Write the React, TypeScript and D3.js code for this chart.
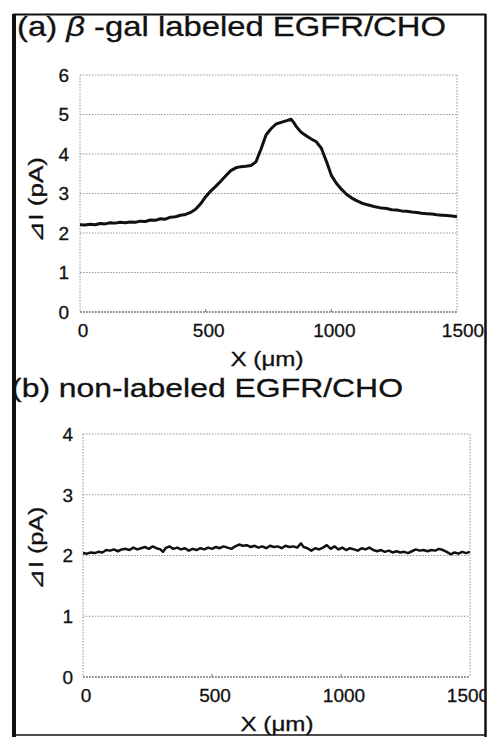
import React from "react";
import * as d3 from "d3";

const W = 489;
const H = 737;

// ---- data ----
const titleA = "(a) ";
const titleABeta = "β";
const titleARest = " -gal labeled EGFR/CHO";
const titleB = "(b) non-labeled EGFR/CHO";
const yLabel = "⊿I (pA)";
const xLabel = "X (μm)";

const xTicks = [0, 500, 1000, 1500];
const yTicksA = [0, 1, 2, 3, 4, 5, 6];
const yTicksB = [0, 1, 2, 3, 4];

const xA = [0, 20, 40, 60, 80, 100, 120, 140, 160, 180, 200, 220, 240, 260, 280, 300, 320, 340, 360, 380, 400, 420, 440, 460, 480, 500, 520, 540, 560, 580, 600, 620, 640, 660, 680, 700, 720, 740, 760, 780, 800, 820, 840, 850, 860, 880, 900, 920, 940, 960, 980, 1000, 1020, 1040, 1060, 1080, 1100, 1120, 1140, 1170, 1200, 1220, 1240, 1260, 1280, 1300, 1320, 1340, 1360, 1380, 1400, 1420, 1440, 1460, 1480, 1500];
const yA = [2.21, 2.2, 2.22, 2.21, 2.24, 2.23, 2.26, 2.25, 2.27, 2.26, 2.28, 2.27, 2.3, 2.29, 2.33, 2.32, 2.36, 2.35, 2.4, 2.41, 2.45, 2.47, 2.52, 2.6, 2.74, 2.92, 3.06, 3.18, 3.31, 3.45, 3.58, 3.65, 3.68, 3.69, 3.71, 3.8, 4.12, 4.48, 4.64, 4.76, 4.8, 4.84, 4.88, 4.8, 4.7, 4.55, 4.46, 4.38, 4.31, 4.15, 3.82, 3.46, 3.26, 3.11, 2.98, 2.89, 2.82, 2.76, 2.72, 2.67, 2.63, 2.62, 2.59, 2.58, 2.56, 2.55, 2.53, 2.52, 2.5, 2.49, 2.48, 2.46, 2.45, 2.44, 2.43, 2.41];

const xB = [0, 15, 30, 45, 60, 75, 90, 105, 120, 135, 150, 165, 180, 195, 210, 225, 240, 255, 270, 285, 300, 310, 320, 335, 350, 365, 380, 395, 410, 425, 440, 455, 470, 485, 500, 515, 530, 545, 560, 575, 590, 605, 620, 635, 650, 665, 680, 695, 710, 725, 740, 755, 770, 785, 800, 815, 830, 845, 855, 870, 885, 900, 915, 930, 945, 960, 975, 990, 1005, 1020, 1035, 1050, 1065, 1080, 1095, 1110, 1125, 1140, 1155, 1170, 1185, 1200, 1215, 1230, 1245, 1260, 1275, 1290, 1305, 1320, 1335, 1350, 1365, 1380, 1395, 1410, 1425, 1440, 1455, 1470, 1485, 1500];
const yB = [2.04, 2.03, 2.05, 2.04, 2.06, 2.05, 2.09, 2.08, 2.1, 2.07, 2.1, 2.11, 2.09, 2.13, 2.1, 2.12, 2.14, 2.11, 2.15, 2.12, 2.1, 2.06, 2.12, 2.15, 2.11, 2.13, 2.1, 2.12, 2.08, 2.11, 2.09, 2.12, 2.1, 2.13, 2.11, 2.14, 2.12, 2.15, 2.13, 2.11, 2.15, 2.18, 2.16, 2.17, 2.14, 2.16, 2.13, 2.15, 2.12, 2.16, 2.14, 2.15, 2.12, 2.16, 2.14, 2.15, 2.13, 2.2, 2.14, 2.12, 2.08, 2.12, 2.1, 2.13, 2.17, 2.11, 2.15, 2.1, 2.13, 2.09, 2.12, 2.1, 2.08, 2.12, 2.1, 2.13, 2.09, 2.07, 2.09, 2.06, 2.08, 2.05, 2.07, 2.05, 2.06, 2.04, 2.07, 2.1, 2.08, 2.09, 2.07, 2.09, 2.08, 2.11, 2.09, 2.06, 2.02, 2.05, 2.03, 2.06, 2.04, 2.06];

const FONT = "'Liberation Sans', Arial, sans-serif";
const GRID = "#8a8a8a";
const INK = "#111";

type PanelProps = {
  xs: number[];
  ys: number[];
  yTicks: number[];
  left: number;
  right: number;
  top: number;
  bottom: number;
  lineW: number;
  yLabelY: number;
  yLabelLen: number;
  xLabelX: number;
  tickAnchorX: number;
  lastTickShift: number;
};

function Panel(p: PanelProps) {
  const x = d3.scaleLinear().domain([0, 1500]).range([p.left, p.right]);
  const y = d3
    .scaleLinear()
    .domain([0, p.yTicks[p.yTicks.length - 1]])
    .range([p.bottom, p.top]);
  const data = p.xs.map((v, i) => [v, p.ys[i]] as [number, number]);
  const line = d3
    .line<[number, number]>()
    .x((d) => x(d[0]))
    .y((d) => y(d[1]))
    .curve(d3.curveLinear);
  return (
    <g>
      {p.yTicks.map((t) => (
        <line
          key={"g" + t}
          x1={p.left}
          x2={p.right}
          y1={y(t)}
          y2={y(t)}
          stroke={GRID}
          strokeWidth={0.9}
          strokeDasharray="1.5,1.5"
        />
      ))}
      <line x1={p.left} x2={p.left} y1={p.top} y2={p.bottom} stroke={GRID} strokeWidth={0.9} strokeDasharray="1.5,1.5" />
      <line x1={p.right} x2={p.right} y1={p.top} y2={p.bottom} stroke={GRID} strokeWidth={0.9} strokeDasharray="1.5,1.5" />
      <line x1={p.left} x2={p.right} y1={p.bottom} y2={p.bottom} stroke="#555" strokeWidth={0.9} strokeDasharray="2,1" />
      {xTicks.slice(1, 3).map((t) => (
        <line key={"xt" + t} x1={x(t)} x2={x(t)} y1={p.bottom} y2={p.bottom - 3} stroke="#555" strokeWidth={0.8} />
      ))}
      <path d={line(data) || ""} fill="none" stroke={INK} strokeWidth={p.lineW} strokeLinejoin="round" />
      {p.yTicks.map((t) => (
        <text
          key={"yl" + t}
          x={p.tickAnchorX}
          y={y(t)}
          dy="0.36em"
          textAnchor="end"
          fontSize={19}
          fontFamily={FONT}
          fill={INK}
          stroke={INK}
          strokeWidth={0.3}
        >
          {t}
        </text>
      ))}
      {xTicks.map((t, i) => (
        <text
          key={"xl" + t}
          x={x(t) + (i === xTicks.length - 1 ? p.lastTickShift : 3)}
          y={p.bottom + 25}
          textAnchor="middle"
          fontSize={19}
          fontFamily={FONT}
          fill={INK}
          stroke={INK}
          strokeWidth={0.3}
        >
          {t}
        </text>
      ))}
      <text
        x={p.xLabelX}
        y={p.bottom + 54}
        textAnchor="middle"
        fontSize={21}
        fontFamily={FONT}
        fill={INK}
        stroke={INK}
        strokeWidth={0.3}
        textLength={73}
        lengthAdjust="spacingAndGlyphs"
      >
        {xLabel}
      </text>
      <text
        transform={`translate(43, ${p.yLabelY}) rotate(-90)`}
        textAnchor="middle"
        fontSize={20}
        fontFamily={FONT}
        fill={INK}
        stroke={INK}
        strokeWidth={0.3}
        textLength={p.yLabelLen}
        lengthAdjust="spacingAndGlyphs"
      >
        {yLabel}
      </text>
    </g>
  );
}

export default function App() {
  return (
    <svg
      width={W}
      height={H}
      viewBox={`0 0 ${W} ${H}`}
      style={{ position: "absolute", left: 0, top: 0, background: "#fff" }}
    >
      <rect x={0} y={0} width={W} height={H} fill="#fff" />
      <Panel
        xs={xA}
        ys={yA}
        yTicks={yTicksA}
        left={80}
        right={457}
        top={75}
        bottom={312}
        lineW={3}
        yLabelY={200}
        yLabelLen={86}
        xLabelX={267}
        tickAnchorX={69}
        lastTickShift={6}
      />
      <Panel
        xs={xB}
        ys={yB}
        yTicks={yTicksB}
        left={83}
        right={470}
        top={434}
        bottom={677}
        lineW={2.5}
        yLabelY={548}
        yLabelLen={83}
        xLabelX={277}
        tickAnchorX={73}
        lastTickShift={-2}
      />
      <text
        x={17}
        y={36}
        fontSize={28}
        fontFamily={FONT}
        fill={INK}
        stroke={INK}
        strokeWidth={0.3}
        textLength={429}
        lengthAdjust="spacingAndGlyphs"
      >
        {titleA}
        <tspan fontStyle="italic">{titleABeta}</tspan>
        {titleARest}
      </text>
      <text
        x={11}
        y={397}
        fontSize={25}
        fontFamily={FONT}
        fill={INK}
        stroke={INK}
        strokeWidth={0.3}
        textLength={392}
        lengthAdjust="spacingAndGlyphs"
      >
        {titleB}
      </text>
      {/* outer frame */}
      <rect x={486} y={0} width={3} height={H} fill="#fff" />
      <line x1={13} x2={486} y1={14.5} y2={14.5} stroke={INK} strokeWidth={2} />
      <line x1={14} x2={14} y1={14} y2={H} stroke={INK} strokeWidth={4} />
      <line x1={485.5} x2={485.5} y1={14} y2={H} stroke={INK} strokeWidth={2.5} />
      <line x1={13} x2={486} y1={735} y2={735} stroke={INK} strokeWidth={1.5} />
    </svg>
  );
}
